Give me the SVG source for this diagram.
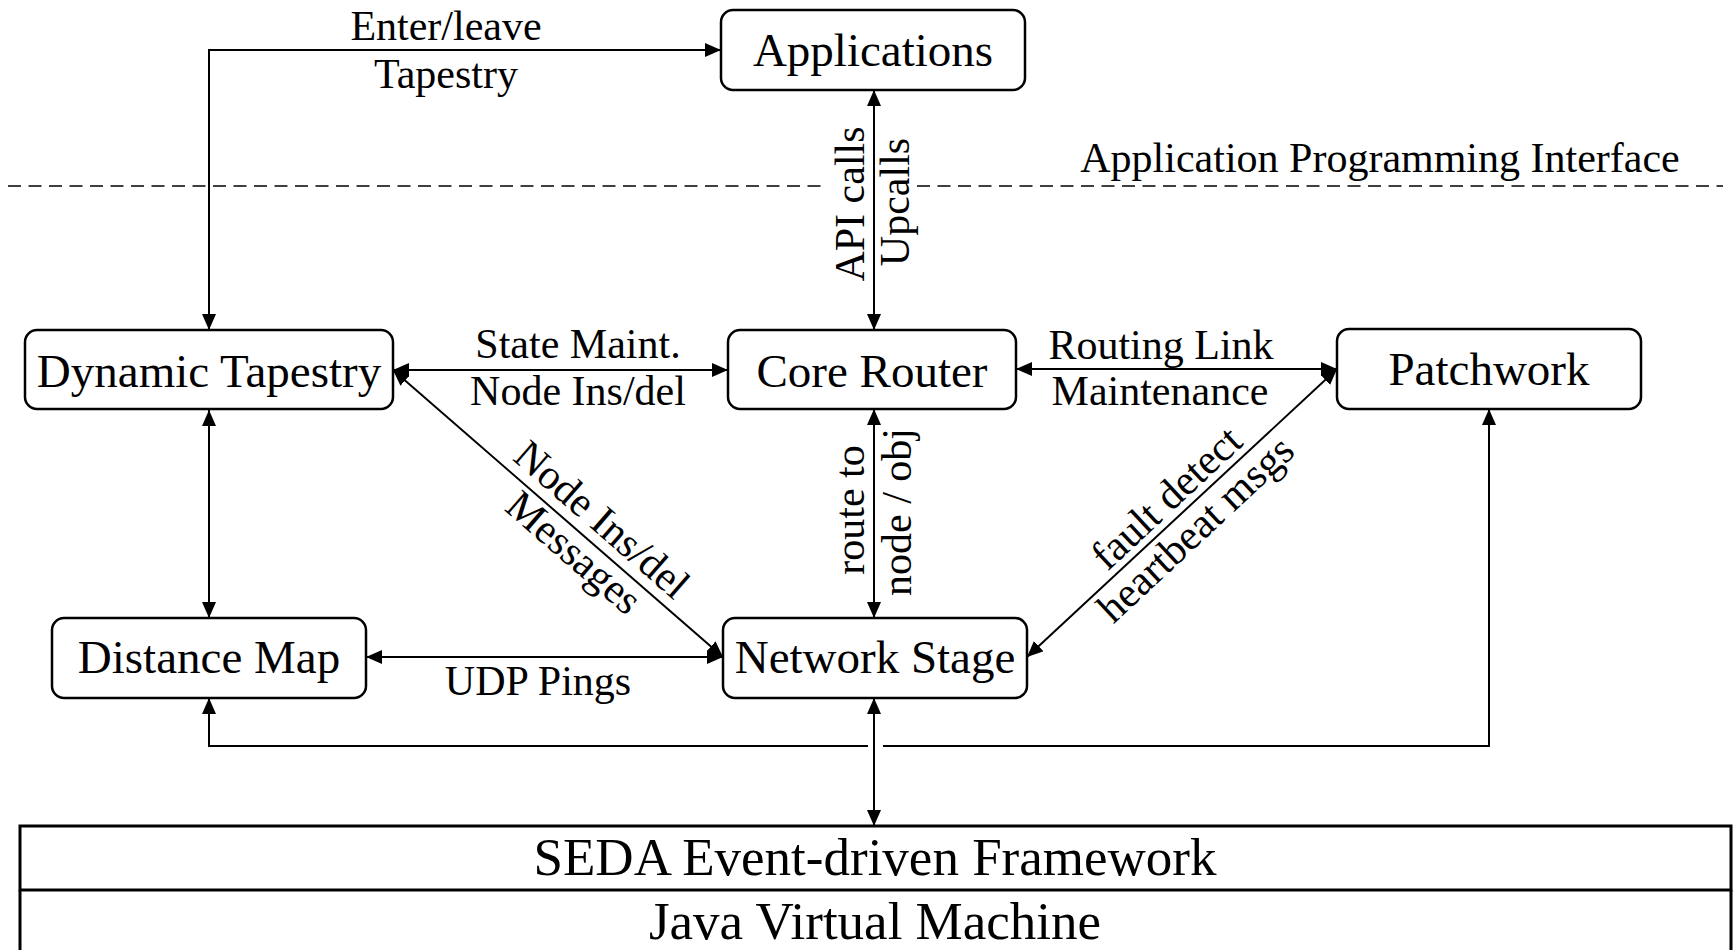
<svg xmlns="http://www.w3.org/2000/svg" width="1735" height="950" viewBox="0 0 1735 950">
<style>
text{font-family:"Liberation Serif","Times New Roman",serif;fill:#000}
.n{font-size:47px;text-anchor:middle}
.l{font-size:42px;text-anchor:middle}
.big{font-size:53px;text-anchor:middle}
.box{fill:#fff;stroke:#000;stroke-width:2.5}
.c{fill:none;stroke:#000;stroke-width:2;marker-start:url(#ah);marker-end:url(#ah)}
.c1{fill:none;stroke:#000;stroke-width:2}
</style>
<defs>
<marker id="ah" viewBox="0 0 16 14" refX="16" refY="7" markerWidth="16" markerHeight="14" markerUnits="userSpaceOnUse" orient="auto-start-reverse"><path d="M0,0 L16,7 L0,14 z" fill="#000"/></marker>
</defs>
<rect width="1735" height="950" fill="#fff"/>
<g id="api-boundary">
<path d="M8,186 H826 M917,186 H1723" stroke="#000" stroke-width="1.5" stroke-dasharray="13 7.5" fill="none"/>
<text class="l" x="1380" y="172">Application Programming Interface</text>
</g>
<g id="connectors">
<path class="c" d="M209,330 V50 H721"/>
<path class="c" d="M874,90 V330"/>
<path class="c" d="M393,370 H728"/>
<path class="c" d="M1016,369 H1337"/>
<path class="c" d="M209,410 V618"/>
<path class="c" d="M393,370 L723,657"/>
<path class="c" d="M874,409 V618"/>
<path class="c" d="M1337,369 L1027,657"/>
<path class="c" d="M366,657 H723"/>
<path class="c1" d="M209,698 V746 H868" marker-start="url(#ah)"/>
<path class="c1" d="M883,746 H1489 V409" marker-end="url(#ah)"/>
<path class="c" d="M874,698 V826"/>
<text class="l" x="446" y="40">Enter/leave</text>
<text class="l" x="446" y="88">Tapestry</text>
<text class="l" transform="translate(864,204) rotate(-90)">API calls</text>
<text class="l" transform="translate(909,202) rotate(-90)">Upcalls</text>
<text class="l" x="578" y="358">State Maint.</text>
<text class="l" x="578" y="405">Node Ins/del</text>
<text class="l" x="1161" y="359">Routing Link</text>
<text class="l" x="1160" y="405">Maintenance</text>
<text class="l" transform="translate(864,510) rotate(-90)">route to</text>
<text class="l" transform="translate(911,512) rotate(-90)">node / obj</text>
<text class="l" transform="translate(593,530) rotate(41)">Node Ins/del</text>
<text class="l" transform="translate(565,563) rotate(41)">Messages</text>
<text class="l" transform="translate(1176,508) rotate(-43)">fault detect</text>
<text class="l" transform="translate(1205,539) rotate(-43)">heartbeat msgs</text>
<text class="l" x="538" y="695">UDP Pings</text>
</g>
<g id="applications">
<rect class="box" x="721" y="10" width="304" height="80" rx="12"/>
<text class="n" x="873" y="66">Applications</text>
</g>
<g id="dynamic-tapestry">
<rect class="box" x="25" y="330" width="368" height="79" rx="12"/>
<text class="n" x="209" y="387">Dynamic Tapestry</text>
</g>
<g id="core-router">
<rect class="box" x="728" y="330" width="288" height="79" rx="12"/>
<text class="n" x="872" y="387">Core Router</text>
</g>
<g id="patchwork">
<rect class="box" x="1337" y="329" width="304" height="80" rx="12"/>
<text class="n" x="1489" y="385">Patchwork</text>
</g>
<g id="distance-map">
<rect class="box" x="52" y="618" width="314" height="80" rx="12"/>
<text class="n" x="209" y="673">Distance Map</text>
</g>
<g id="network-stage">
<rect class="box" x="723" y="618" width="304" height="80" rx="12"/>
<text class="n" x="875" y="673">Network Stage</text>
</g>
<g id="seda">
<rect x="20" y="826" width="1711" height="64" fill="#fff" stroke="#000" stroke-width="3"/>
<text class="big" x="875" y="875">SEDA Event-driven Framework</text>
</g>
<g id="jvm">
<path d="M20,890 V960 M1731,890 V960" stroke="#000" stroke-width="3" fill="none"/>
<text class="big" x="875" y="939">Java Virtual Machine</text>
</g>
</svg>
